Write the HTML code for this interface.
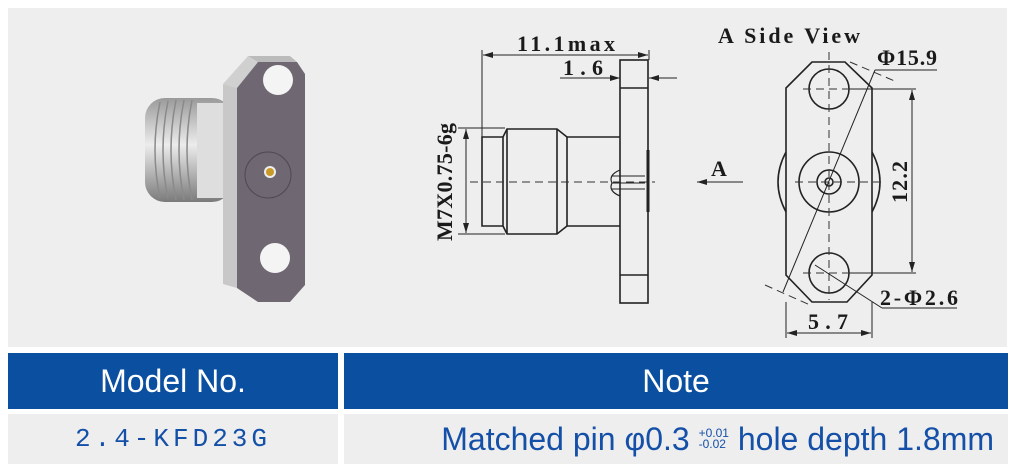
<!DOCTYPE html>
<html><head><meta charset="utf-8"><style>
body{margin:0;width:1016px;height:469px;background:#fff;position:relative;overflow:hidden;font-family:"Liberation Sans",sans-serif}
.p{position:absolute}
.hd{background:#0a4fa0;color:#fff;font-size:32px;display:flex;align-items:center;justify-content:center}
.rw{background:#eeeeee;color:#1450a8;display:flex;align-items:center;justify-content:center}
</style></head><body>
<div class="p" style="left:8px;top:8px;width:999px;height:339px;background:#eeeeee"></div>
<svg class="p" style="left:0;top:0" width="1016" height="350" viewBox="0 0 1016 350">
<defs>
<linearGradient id="cy" x1="0" y1="0" x2="0" y2="1"><stop offset="0" stop-color="#9a9a9a"/><stop offset=".45" stop-color="#ececec"/><stop offset="1" stop-color="#7a7a7a"/></linearGradient>
<marker id="ar" markerWidth="10" markerHeight="6" refX="10" refY="3" orient="auto-start-reverse" markerUnits="userSpaceOnUse"><path d="M0,0 L10,3 L0,6z" fill="#222"/></marker>
</defs>
<rect x="145" y="98" width="87" height="104" rx="20" fill="url(#cy)"/>
<g stroke="#8a8a8a" stroke-width="1.5" fill="none">
<path d="M160 102 Q150 150 160 198"/><path d="M168 101 Q158 150 168 199"/><path d="M176 100 Q166 150 176 200"/><path d="M184 100 Q174 150 184 200"/><path d="M192 100 Q182 150 192 200"/>
</g>
<rect x="197" y="103" width="33" height="95" fill="#dedede"/>
<polygon points="223,84 248,56 258,62 237,88" fill="#d0d0d0"/>
<polygon points="223,84 237,88 237,288 223,284" fill="#c8c8c8"/>
<polygon points="248,56 290,56 297,62 258,62" fill="#bbb"/>
<polygon points="237,88 258,62 297,62 305,74 305,285 290,302 258,302 237,288" fill="#6f6873"/>
<circle cx="278" cy="80" r="15" fill="#f4f4f4"/>
<circle cx="275" cy="258" r="15" fill="#f4f4f4"/>
<circle cx="268" cy="175" r="23" fill="none" stroke="#4e4852" stroke-width="1"/>
<circle cx="270" cy="172" r="6" fill="#eee"/>
<circle cx="270" cy="172" r="4" fill="#c89a2a"/>
<g stroke="#222" stroke-width="1.6" fill="none">
<rect x="620" y="60" width="28" height="243"/>
<line x1="620" y1="88" x2="648" y2="88"/><line x1="620" y1="275" x2="648" y2="275"/>
<line x1="648" y1="150" x2="648" y2="212" stroke-width="3"/>
<polyline points="503,137 482,137 482,226 503,226"/>
<polygon points="503,137 507,129 557,129 567,137 567,226 557,234 507,234 503,226"/>
<line x1="507" y1="129" x2="507" y2="234"/><line x1="557" y1="129" x2="557" y2="234"/>
<line x1="567" y1="137" x2="620" y2="137"/><line x1="567" y1="226" x2="620" y2="226"/>
<path d="M620 170 Q608 175 612 183 Q608 191 620 196" stroke-width="1.2"/>
<path d="M612 176 L645 176 M612 183 L645 183 M612 189 L645 189" stroke-width="1"/>
</g>
<line x1="470" y1="182" x2="655" y2="182" stroke="#333" stroke-width="1" stroke-dasharray="8,5"/>
<g stroke="#222" stroke-width="1" fill="none">
<line x1="482" y1="50" x2="482" y2="137"/><line x1="649" y1="50" x2="649" y2="60"/>
<line x1="483" y1="55" x2="648" y2="55" marker-start="url(#ar)" marker-end="url(#ar)"/>
<line x1="565" y1="78" x2="620" y2="78" marker-end="url(#ar)"/>
<line x1="677" y1="78" x2="649" y2="78" marker-end="url(#ar)"/>
<line x1="560" y1="78" x2="565" y2="78"/>
<line x1="458" y1="128" x2="505" y2="128"/><line x1="458" y1="234" x2="505" y2="234"/>
<line x1="466" y1="129" x2="466" y2="233" marker-start="url(#ar)" marker-end="url(#ar)"/>
<line x1="743" y1="182" x2="697" y2="182" marker-end="url(#ar)"/>
</g>
<g font-family="Liberation Serif,serif" font-size="22" fill="#1a1a1a" font-weight="bold">
<text x="517" y="51" textLength="98" lengthAdjust="spacing">11.1max</text>
<text x="563" y="75" textLength="40" lengthAdjust="spacing">1.6</text>
<text x="711" y="176">A</text>
<text transform="translate(452,182) rotate(-90)" text-anchor="middle" textLength="118" lengthAdjust="spacing">M7X0.75-6g</text>
<text x="718" y="43" textLength="142" lengthAdjust="spacing">A Side View</text>
<text x="877" y="65" textLength="60" lengthAdjust="spacing">Φ15.9</text>
<text transform="translate(907,182) rotate(-90)" text-anchor="middle" textLength="42" lengthAdjust="spacing">12.2</text>
<text x="880" y="305" textLength="78" lengthAdjust="spacing">2-Φ2.6</text>
<text x="808" y="329" textLength="40" lengthAdjust="spacing">5.7</text>
</g>
<g stroke="#222" stroke-width="1.6" fill="none">
<polygon points="812,62 845,62 872,88 872,275 847,302 812,302 786,275 786,88"/>
<circle cx="829" cy="89" r="20"/><circle cx="829" cy="273" r="20"/>
<circle cx="829" cy="182" r="30"/><circle cx="829" cy="182" r="12"/><circle cx="829" cy="182" r="4"/>
<path d="M786 152 Q770 182 786 212"/><path d="M872 152 Q888 182 872 212"/>
</g>
<g stroke="#333" stroke-width="1" fill="none" stroke-dasharray="8,5">
<line x1="829" y1="52" x2="829" y2="300"/>
<line x1="795" y1="182" x2="882" y2="182"/>
<line x1="803" y1="89" x2="855" y2="89"/><line x1="803" y1="273" x2="855" y2="273"/>
<line x1="850" y1="62" x2="897" y2="82"/><line x1="765" y1="285" x2="810" y2="305"/>
</g>
<g stroke="#222" stroke-width="1" fill="none">
<line x1="783" y1="292" x2="875" y2="70"/><line x1="875" y1="70" x2="937" y2="70"/>
<line x1="850" y1="89" x2="916" y2="89"/><line x1="850" y1="273" x2="916" y2="273"/>
<line x1="912" y1="90" x2="912" y2="272" marker-start="url(#ar)" marker-end="url(#ar)"/>
<line x1="815" y1="265" x2="882" y2="308"/><line x1="882" y1="308" x2="957" y2="308"/>
<line x1="786" y1="302" x2="786" y2="338"/><line x1="872" y1="302" x2="872" y2="338"/>
<line x1="787" y1="333" x2="871" y2="333" marker-start="url(#ar)" marker-end="url(#ar)"/>
</g>
</svg>
<div class="p hd" style="left:8px;top:353px;width:330px;height:56px">Model No.</div>
<div class="p hd" style="left:344px;top:353px;width:664px;height:56px">Note</div>
<div class="p rw" style="left:8px;top:414px;width:330px;height:50px;font-family:'Liberation Mono',monospace;font-size:26px;letter-spacing:4px">2.4-KFD23G</div>
<div class="p rw" style="left:344px;top:414px;width:664px;height:50px;font-size:32px;justify-content:flex-end;padding-right:14px;box-sizing:border-box">Matched pin φ0.3&nbsp;<span style="display:inline-block;font-size:12px;line-height:11px;vertical-align:middle">+0.01<br>-0.02</span>&nbsp;hole depth 1.8mm</div>
</body></html>
